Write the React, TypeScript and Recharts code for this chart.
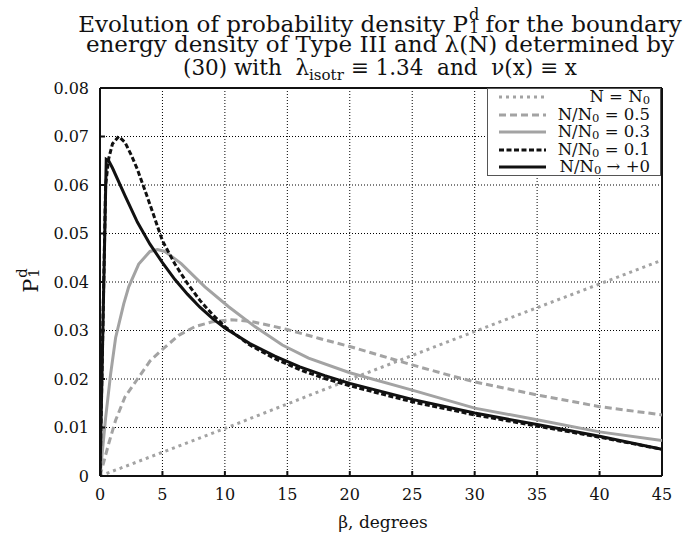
import { LineChart, Line, XAxis, YAxis, CartesianGrid, ReferenceLine } from "recharts";

// β, degrees and P1d values, one pair of arrays per curve
const betaN0 = [0, 10, 20, 30, 45];
const pN0 = [0, 0.0098, 0.0199, 0.0298, 0.0445];

const beta05 = [0, 0.7, 1.25, 2, 3, 4, 5, 6.3, 7.6, 9, 10.5, 12, 13.5, 15, 17.5, 20, 22.5, 25, 27.5, 30, 35, 40, 45];
const p05 = [0, 0.0067, 0.0115, 0.0163, 0.02, 0.0237, 0.0261, 0.029, 0.0308, 0.0318, 0.0322, 0.0319, 0.0311, 0.0302, 0.0284, 0.0267, 0.0248, 0.0229, 0.0211, 0.0194, 0.0167, 0.0143, 0.0126];

const beta03 = [0, 0.45, 0.85, 1.25, 1.9, 2.3, 3.1, 4, 4.6, 5.2, 6.5, 8.4, 10.3, 12.4, 14.6, 16.7, 20, 25, 30, 35, 40, 45];
const p03 = [0, 0.012, 0.021, 0.0285, 0.0355, 0.039, 0.0437, 0.0463, 0.0467, 0.0463, 0.0438, 0.039, 0.0349, 0.0308, 0.027, 0.0243, 0.0213, 0.0177, 0.014, 0.0116, 0.0091, 0.0073];

const beta01 = [0, 0.3, 0.45, 0.7, 1, 1.5, 2, 2.5, 3, 4, 5, 6, 7, 8, 9, 10, 12, 14, 16, 18, 20, 25, 30, 35, 40, 45];
const p01 = [0, 0.04, 0.06, 0.0655, 0.0685, 0.07, 0.0688, 0.0662, 0.0632, 0.056, 0.0485, 0.0437, 0.0397, 0.0362, 0.0333, 0.0308, 0.027, 0.0242, 0.0219, 0.0201, 0.0186, 0.0153, 0.0126, 0.0103, 0.008, 0.0055];

const beta00 = [0, 0.5, 0.7, 1, 2, 3, 4, 5, 6, 7, 8, 9, 10, 12, 14, 16, 18, 20, 25, 30, 35, 40, 45];
const p00 = [0, 0.0653, 0.065, 0.0635, 0.0578, 0.0523, 0.0478, 0.044, 0.0405, 0.0375, 0.0348, 0.0325, 0.0305, 0.0273, 0.0247, 0.0225, 0.0207, 0.0191, 0.0158, 0.013, 0.0106, 0.0082, 0.0055];

const xTicks = [0, 5, 10, 15, 20, 25, 30, 35, 40, 45];
const yTicks = [0, 0.01, 0.02, 0.03, 0.04, 0.05, 0.06, 0.07, 0.08];

const toRows = (beta: number[], p: number[]) => beta.map((b, i) => ({ beta: b, p: p[i] }));

const GRAY = "#a3a3a3";
const BLACK = "#111";
const FONT = "DejaVu Serif";

const series = [
  { key: "n0", rows: toRows(betaN0, pN0), color: GRAY, dash: "3 4", label: "N = N", tail: "" },
  { key: "r05", rows: toRows(beta05, p05), color: GRAY, dash: "7 4", label: "N/N", tail: " = 0.5" },
  { key: "r03", rows: toRows(beta03, p03), color: GRAY, dash: undefined, label: "N/N", tail: " = 0.3" },
  { key: "r01", rows: toRows(beta01, p01), color: BLACK, dash: "5 2.5", label: "N/N", tail: " = 0.1" },
  { key: "r00", rows: toRows(beta00, p00), color: BLACK, dash: undefined, label: "N/N", tail: " \u2192 +0" },
];

const tickStyle = { fontFamily: FONT, fontSize: 16, fill: "#111" };
const frame = { stroke: "#111", strokeWidth: 2 };

function SupSub({ sup, sub, size = "0.7em" }: { sup: string; sub: string; size?: string }) {
  return (
    <span style={{ display: "inline-block", position: "relative", width: "0.45em", height: "1em", verticalAlign: "baseline" }}>
      <span style={{ position: "absolute", left: 1, top: "-0.15em", fontSize: size, lineHeight: 1 }}>{sup}</span>
      <span style={{ position: "absolute", left: 1, top: "0.7em", fontSize: size, lineHeight: 1 }}>{sub}</span>
    </span>
  );
}

function Title() {
  const line = { position: "absolute" as const, left: 70, width: 620, textAlign: "center" as const, whiteSpace: "nowrap" as const, lineHeight: "24px" };
  return (
    <div style={{ fontFamily: FONT, fontSize: 23, color: "#111" }}>
      <div style={{ ...line, top: 9 }}>
        Evolution of probability density P<SupSub sup="d" sub="1" /> for the boundary
      </div>
      <div style={{ ...line, top: 32 }}>energy density of Type III and λ(N) determined by</div>
      <div style={{ ...line, top: 56, fontSize: 21.5 }}>
        (30) with&nbsp; λ<sub style={{ fontSize: "0.7em", verticalAlign: "-0.3em" }}>isotr</sub> ≡ 1.34&nbsp; and&nbsp; ν(x) ≡ x
      </div>
    </div>
  );
}

function LegendBox() {
  return (
    <div
      style={{
        position: "absolute",
        left: 487,
        top: 88,
        width: 174,
        height: 88,
        background: "#fff",
        border: "1px solid #555",
        fontFamily: FONT,
        fontSize: 16.5,
        color: "#111",
        boxSizing: "border-box",
      }}
    >
      {series.map((s, i) => (
        <div key={s.key} style={{ position: "absolute", left: 0, top: 1 + i * 17.6, width: 172, height: 18 }}>
          <svg width={60} height={18} style={{ position: "absolute", left: 0, top: 0 }}>
            <line x1={11} x2={58} y1={7} y2={7} stroke={s.color} strokeWidth={3} strokeDasharray={s.dash} />
          </svg>
          <div style={{ position: "absolute", right: 10, top: -3, lineHeight: "20px", whiteSpace: "nowrap" }}>
            {s.label}
            <sub style={{ fontSize: "0.7em", verticalAlign: "-0.2em" }}>0</sub>
            {s.tail}
          </div>
        </div>
      ))}
    </div>
  );
}

export default function App() {
  return (
    <div style={{ position: "absolute", left: 0, top: 0, width: 689, height: 538, background: "#fff" }}>
      <LineChart width={689} height={538} margin={{ top: 88, right: 27, bottom: 22, left: 40 }}>
        <CartesianGrid stroke="#000" strokeDasharray="1 2" strokeWidth={1} />
        <XAxis
          dataKey="beta"
          type="number"
          domain={[0, 45]}
          ticks={xTicks}
          height={40}
          tick={tickStyle}
          tickLine={frame}
          tickSize={-5}
          tickMargin={18}
          axisLine={frame}
          allowDataOverflow
        />
        <XAxis
          xAxisId="top"
          orientation="top"
          type="number"
          domain={[0, 45]}
          ticks={xTicks}
          height={0}
          tick={false}
          tickLine={frame}
          tickSize={-5}
          axisLine={frame}
        />
        <YAxis
          type="number"
          domain={[0, 0.08]}
          ticks={yTicks}
          width={60}
          tick={tickStyle}
          tickLine={frame}
          tickSize={-5}
          tickMargin={16}
          tickFormatter={(v: number) => (v === 0 ? "0" : v.toFixed(2))}
          axisLine={frame}
          allowDataOverflow
        />
        <YAxis
          yAxisId="right"
          orientation="right"
          type="number"
          domain={[0, 0.08]}
          ticks={yTicks}
          width={0}
          tick={false}
          tickLine={frame}
          tickSize={-5}
          axisLine={frame}
        />
        <ReferenceLine x={45} stroke="#111" strokeWidth={2} />
        <ReferenceLine y={0.08} stroke="#111" strokeWidth={2} />
        {series.map((s) => (
          <Line
            key={s.key}
            data={s.rows}
            dataKey="p"
            type="linear"
            stroke={s.color}
            strokeWidth={3}
            strokeDasharray={s.dash}
            dot={false}
            activeDot={false}
            isAnimationActive={false}
          />
        ))}
      </LineChart>
      <Title />
      <LegendBox />
      <div
        style={{
          position: "absolute",
          left: 383,
          top: 511,
          transform: "translateX(-50%)",
          fontFamily: FONT,
          fontSize: 17,
          color: "#111",
          whiteSpace: "nowrap",
          lineHeight: "22px",
        }}
      >
        β, degrees
      </div>
      <div
        style={{
          position: "absolute",
          left: 29,
          top: 281,
          transform: "translate(-50%, -50%) rotate(-90deg)",
          fontFamily: FONT,
          fontSize: 21,
          color: "#111",
          whiteSpace: "nowrap",
          lineHeight: "22px",
        }}
      >
        P<SupSub sup="d" sub="1" />
      </div>
    </div>
  );
}
